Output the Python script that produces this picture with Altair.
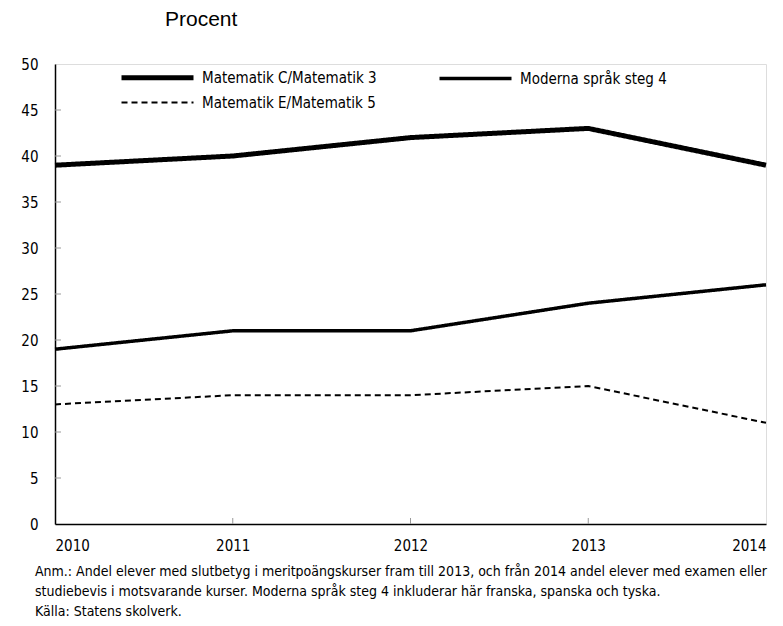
import altair as alt
import pandas as pd

years = [2010, 2011, 2012, 2013, 2014]
series_names = ["Matematik C/Matematik 3", "Moderna språk steg 4", "Matematik E/Matematik 5"]
mat_c = [39, 40, 42, 43, 39]
moderna = [19, 21, 21, 24, 26]
mat_e = [13, 14, 14, 15, 11]
y_ticks = [0, 5, 10, 15, 20, 25, 30, 35, 40, 45, 50]
x_ticks = [2010, 2011, 2012, 2013, 2014]
title_text = "Procent"
note_lines = [
    "Anm.: Andel elever med slutbetyg i meritpoängskurser fram till 2013, och från 2014 andel elever med examen eller",
    "studiebevis i motsvarande kurser. Moderna språk steg 4 inkluderar här franska, spanska och tyska.",
    "Källa: Statens skolverk.",
]

FONT = "Liberation Sans Narrow, DejaVu Sans Condensed, sans-serif"
W, H = 711, 460

rows = []
for name, vals in zip(series_names, [mat_c, moderna, mat_e]):
    for yr, v in zip(years, vals):
        rows.append({"year": yr, "value": v, "series": name})
df = pd.DataFrame(rows)

xscale = alt.Scale(domain=[2010, 2014], nice=False, zero=False)
yscale = alt.Scale(domain=[0, 50], nice=False)


def make_legend():
    return alt.Legend(title=None, orient="none", legendX=94, legendY=5, direction="horizontal",
                      columns=2, columnPadding=55, rowPadding=7,
                      symbolType="M-6,0H6", symbolSize=144, symbolStrokeColor="black",
                      symbolFillColor="transparent",
                      labelFont=FONT, labelFontSize=15, labelColor="black",
                      labelOffset=36, labelLimit=400)


lines = alt.Chart(df).mark_line(color="black", strokeCap="butt", strokeJoin="miter").encode(
    x=alt.X("year:Q", scale=xscale,
            axis=alt.Axis(values=x_ticks, format="d", title=None, ticks=False,
                          labelPadding=14, domainColor="black", domainWidth=1.5,
                          labelFont=FONT, labelFontSize=15, labelFontWeight="normal",
                          labelColor="black", grid=False)),
    y=alt.Y("value:Q", scale=yscale,
            axis=alt.Axis(values=y_ticks, title=None, ticks=False, labelPadding=17,
                          domainColor="black", domainWidth=1.5,
                          labelFont=FONT, labelFontSize=15, labelFontWeight="normal",
                          labelColor="black", grid=False)),
    strokeWidth=alt.StrokeWidth("series:N", sort=series_names,
                                scale=alt.Scale(domain=series_names, range=[5, 2, 2]),
                                legend=make_legend()),
    strokeDash=alt.StrokeDash("series:N", sort=series_names,
                              scale=alt.Scale(domain=series_names, range=[[1, 0], [1, 0], [6, 4]]),
                              legend=make_legend()),
)

ytick_df = pd.DataFrame({"v": y_ticks[1:-1]})
ytick_marks = alt.Chart(ytick_df).mark_rule(color="#999999", strokeWidth=1).encode(
    y=alt.Y("v:Q", scale=yscale), x=alt.value(0), x2=alt.value(6))

xtick_df = pd.DataFrame({"v": x_ticks[1:-1]})
xtick_marks = alt.Chart(xtick_df).mark_rule(color="#999999", strokeWidth=1).encode(
    x=alt.X("v:Q", scale=xscale), y=alt.value(H), y2=alt.value(H - 6))

title = alt.Chart(pd.DataFrame({"t": [title_text]})).mark_text(
    align="left", baseline="middle", font="Liberation Sans, Arial, sans-serif", fontSize=21, color="black"
).encode(text="t:N", x=alt.value(110), y=alt.value(-44))

note = alt.Chart(pd.DataFrame({"t": ["\n".join(note_lines)]})).mark_text(
    align="left", baseline="top", font=FONT, fontSize=14, color="black", lineBreak="\n", lineHeight=20
).encode(text="t:N", x=alt.value(-20), y=alt.value(501))

chart = alt.layer(lines, ytick_marks, xtick_marks, title, note).properties(
    width=W, height=H,
    autosize=alt.AutoSizeParams(type="none"),
    padding={"left": 47, "top": 56, "right": 9, "bottom": 94},
).configure_view(stroke="#888888", strokeWidth=1).configure(background="white")

chart.save("out.html", embed_options={"renderer": "svg", "actions": False})
